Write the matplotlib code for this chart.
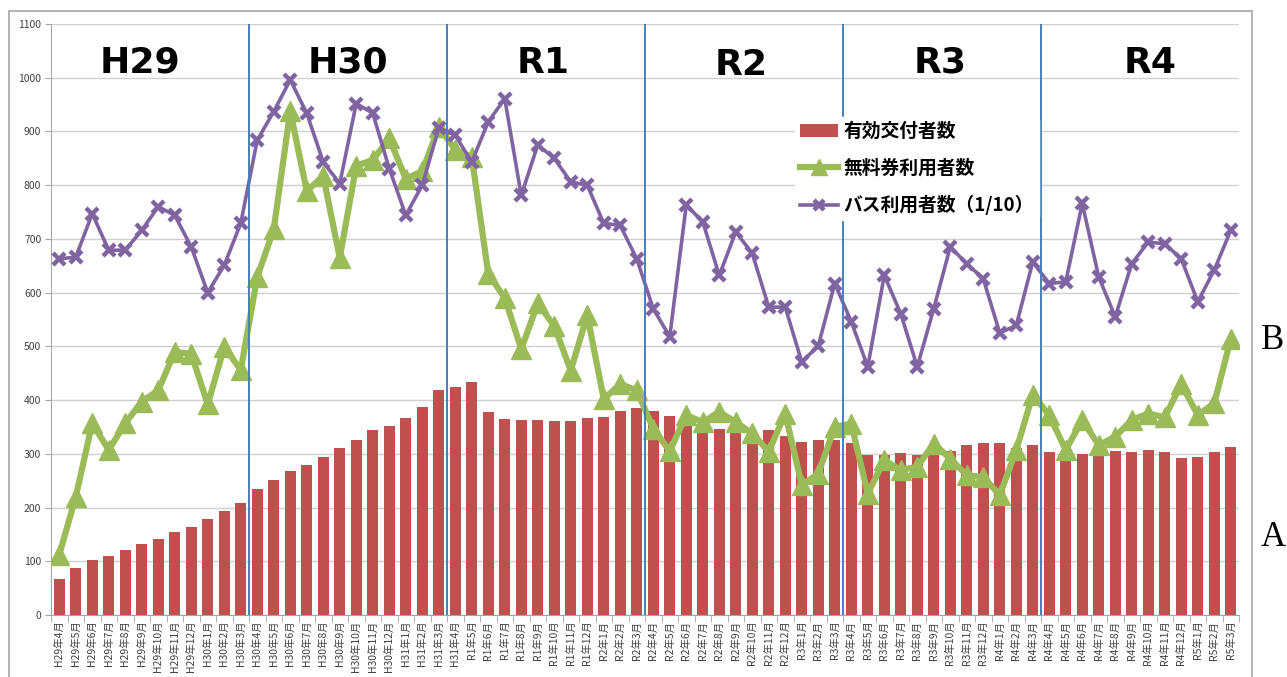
import numpy as np
import matplotlib.pyplot as plt
from matplotlib.patches import Rectangle

plt.rcParams['font.family'] = ['Noto Sans CJK JP', 'DejaVu Sans']

months = [
    "H29年4月", "H29年5月", "H29年6月", "H29年7月", "H29年8月", "H29年9月",
    "H29年10月", "H29年11月", "H29年12月", "H30年1月", "H30年2月", "H30年3月",
    "H30年4月", "H30年5月", "H30年6月", "H30年7月", "H30年8月", "H30年9月",
    "H30年10月", "H30年11月", "H30年12月", "H31年1月", "H31年2月", "H31年3月",
    "H31年4月", "R1年5月", "R1年6月", "R1年7月", "R1年8月", "R1年9月",
    "R1年10月", "R1年11月", "R1年12月", "R2年1月", "R2年2月", "R2年3月",
    "R2年4月", "R2年5月", "R2年6月", "R2年7月", "R2年8月", "R2年9月",
    "R2年10月", "R2年11月", "R2年12月", "R3年1月", "R3年2月", "R3年3月",
    "R3年4月", "R3年5月", "R3年6月", "R3年7月", "R3年8月", "R3年9月",
    "R3年10月", "R3年11月", "R3年12月", "R4年1月", "R4年2月", "R4年3月",
    "R4年4月", "R4年5月", "R4年6月", "R4年7月", "R4年8月", "R4年9月",
    "R4年10月", "R4年11月", "R4年12月", "R5年1月", "R5年2月", "R5年3月",
]

# 有効交付者数
issued = [
    67, 87, 102, 110, 121, 133, 141, 155, 164, 178, 193, 209,
    234, 252, 268, 280, 295, 310, 326, 345, 351, 367, 388, 418,
    424, 433, 377, 364, 363, 363, 361, 361, 367, 369, 380, 385,
    379, 370, 356, 350, 346, 339, 325, 344, 333, 322, 326, 326,
    320, 298, 297, 301, 297, 301, 305, 316, 320, 320, 310, 317,
    304, 300, 300, 300, 305, 304, 307, 304, 293, 295, 303, 313,
]

# 無料券利用者数
free_users = [
    112, 220, 357, 307, 357, 397, 418, 490, 486, 392, 499, 456,
    629, 718, 938, 789, 817, 665, 836, 847, 887, 812, 826, 908,
    866, 853, 635, 590, 495, 580, 538, 455, 558, 402, 430, 418,
    347, 305, 372, 359, 378, 359, 338, 304, 375, 242, 263, 350,
    356, 226, 288, 270, 276, 319, 291, 260, 257, 223, 307, 410,
    372, 307, 363, 316, 332, 363, 375, 368, 430, 372, 394, 514,
]

# バス利用者数 (1/10)
bus_users = [
    663, 666, 747, 679, 679, 716, 760, 744, 685, 600, 651, 729,
    884, 937, 996, 934, 843, 803, 952, 934, 831, 744, 800, 906,
    893, 843, 918, 961, 781, 875, 850, 806, 800, 729, 725, 663,
    570, 518, 763, 732, 632, 713, 673, 573, 573, 471, 501, 617,
    546, 462, 632, 561, 462, 570, 685, 654, 626, 525, 539, 657,
    617, 620, 766, 629, 555, 654, 694, 691, 663, 583, 642, 716,
]

fiscal_years = ["H29", "H30", "R1", "R2", "R3", "R4"]
fy_label_x = [4.9, 17.5, 29.3, 41.3, 53.4, 66.1]
fy_label_y = [1028, 1028, 1028, 1024, 1028, 1028]

fig = plt.figure(figsize=(12.87, 6.77), dpi=100)
ax = fig.add_axes([51 / 1287, 1 - 615 / 677, 1188 / 1287, 591 / 677])

# outer chart frame
fig.patches.append(Rectangle((9 / 1287, -0.1), 1243 / 1287, 1.1 - 11 / 677,
                             transform=fig.transFigure, fill=False,
                             edgecolor="#a6a6a6", lw=1.2))

x = np.arange(len(months))
b = ax.bar(x, issued, width=0.68, color="#c0504d", label="有効交付者数", zorder=2)
l1, = ax.plot(x, free_users, color="#9bbb59", lw=4.5, marker="^", ms=15,
              label="無料券利用者数", zorder=3)
l2, = ax.plot(x, bus_users, color="#8064a2", lw=2.6, marker="x", ms=9, mew=3.2,
              label="バス利用者数（1/10）", zorder=3.5)

# fiscal year separators and labels
for k, fy in enumerate(fiscal_years):
    if k > 0:
        ax.axvline(12 * k - 0.5, color="#4a7ebb", lw=1.4, zorder=4)
    ax.text(fy_label_x[k], fy_label_y[k], fy, ha="center", va="center",
            fontsize=26, fontweight="bold", family="DejaVu Sans", zorder=4)

ax.set_xlim(-0.5, len(months) - 0.5)
ax.set_ylim(0, 1100)
ax.set_yticks(range(0, 1101, 100))
ax.set_xticks(x)
ax.set_xticklabels(months, rotation=90, fontsize=7.5, color="#404040")
ax.set_xticks(np.arange(-0.5, len(months), 1), minor=True)
ax.tick_params(axis="x", which="major", length=0, pad=4)
ax.tick_params(axis="x", which="minor", length=5, color="#a6a6a6")
ax.tick_params(axis="y", length=4, color="#a6a6a6", labelsize=7.5,
               labelcolor="#404040", pad=3)
ax.grid(axis="y", color="#d0d0d0", lw=1, zorder=0)
ax.set_axisbelow(True)
for side in ["top", "right"]:
    ax.spines[side].set_visible(False)
for side in ["left", "bottom"]:
    ax.spines[side].set_color("#a6a6a6")

leg = ax.legend(handles=[b, l1, l2], loc="upper left",
                bbox_to_anchor=(0.623, 0.849),
                prop={"size": 13.5, "weight": "bold"}, frameon=True,
                facecolor="white", edgecolor="white", framealpha=1,
                handlelength=2.05, handletextpad=0.3, labelspacing=0.95,
                borderpad=0.25, borderaxespad=0.2, markerscale=0.8)
leg.set_zorder(6)

fig.text(1273 / 1287, 1 - 340 / 677, "B", fontsize=25, family="Liberation Serif",
         ha="center", va="center")
fig.text(1273 / 1287, 1 - 538 / 677, "A", fontsize=25, family="Liberation Serif",
         ha="center", va="center")

fig.savefig("out.png", dpi=100)
